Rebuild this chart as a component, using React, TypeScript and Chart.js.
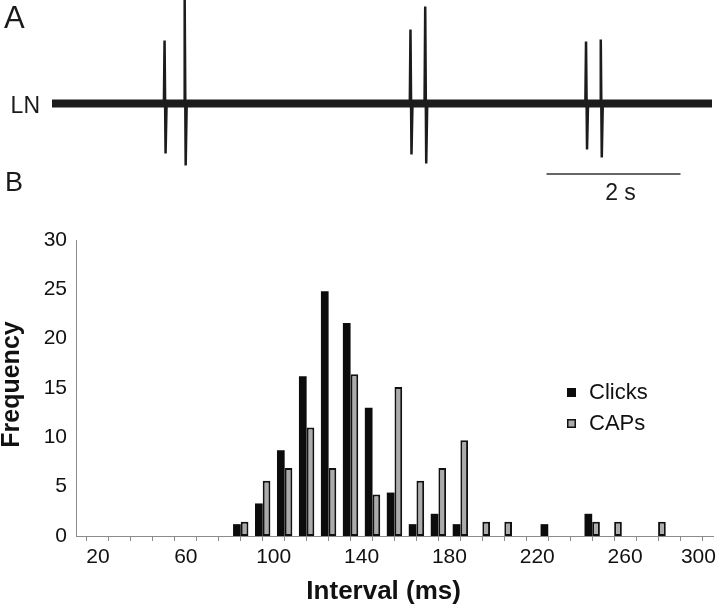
import React, { useEffect, useRef } from "react";
import { Chart, registerables } from "chart.js";

Chart.register(...registerables);

const FONT = '"Liberation Sans", Arial, Helvetica, sans-serif';

// ---------- Panel A: LN recording ----------
const traceDuration = 9.85; // seconds shown
const spikeTimes = [1.68, 1.98, 5.35, 5.57, 7.97, 8.19]; // s
const spikeUp = [63, 106, 74, 97, 62, 64]; // arbitrary units
const spikeDown = [50, 62, 51, 60, 46, 54];
const scaleBarStart = 7.38; // s
const scaleBarLength = 2; // s
const scaleBarLevel = -70.5;
const scaleBarLabel = "2 s";
const traceLabel = "LN";

// ---------- Panel B: interval histogram ----------
const binStart = [80, 90, 100, 110, 120, 130, 140, 150, 160, 170, 180, 190, 200, 210, 220, 230, 240, 250, 260, 270];
const binWidth = 10;
const clicks = [1.2, 3.3, 8.7, 16.2, 24.8, 21.6, 13.0, 4.4, 1.2, 2.25, 1.2, null, null, null, 1.2, null, 2.25, null, null, null];
const caps = [1.45, 5.6, 6.9, 11.0, 6.9, 16.4, 4.2, 15.1, 5.6, 6.9, 9.7, 1.45, 1.45, null, null, null, 1.45, 1.45, null, 1.45];
const seriesNames = ["Clicks", "CAPs"];
const xMin = 10;
const xMax = 300;
const xLabelFirst = 20;
const xLabelEvery = 40;
const yMax = 30;
const yStep = 5;
const xTitle = "Interval (ms)";
const yTitle = "Frequency";

const toPoints = (vals: (number | null)[]) =>
  binStart
    .map((b, i) => ({ x: b + binWidth / 2, y: vals[i] }))
    .filter((p) => p.y !== null) as { x: number; y: number }[];

export default function App() {
  const refA = useRef<HTMLCanvasElement>(null);
  const refB = useRef<HTMLCanvasElement>(null);

  useEffect(() => {
    // ---- Panel A ----
    const spikePts: { x: number; y: number }[] = [{ x: 0, y: 0 }];
    spikeTimes.forEach((t, i) => {
      spikePts.push({ x: t - 0.01, y: 0 });
      spikePts.push({ x: t, y: spikeUp[i] });
      spikePts.push({ x: t + 0.015, y: -spikeDown[i] });
      spikePts.push({ x: t + 0.03, y: 0 });
    });
    spikePts.push({ x: traceDuration, y: 0 });

    const textA = {
      id: "textA",
      afterDraw(chart: any) {
        const ctx = chart.ctx as CanvasRenderingContext2D;
        const xs = chart.scales.x;
        ctx.save();
        ctx.fillStyle = "#1a1a1a";
        ctx.textBaseline = "alphabetic";
        ctx.textAlign = "left";
        ctx.font = `31px ${FONT}`;
        ctx.fillText("A", 4, 28);
        ctx.font = `27px ${FONT}`;
        ctx.fillText("B", 5, 191);
        ctx.font = `23px ${FONT}`;
        ctx.textAlign = "right";
        ctx.fillText(traceLabel, 40, 113);
        ctx.textAlign = "center";
        const mid =
          (xs.getPixelForValue(scaleBarStart) + xs.getPixelForValue(scaleBarStart + scaleBarLength)) / 2;
        ctx.fillText(scaleBarLabel, mid + 7, 200);
        ctx.restore();
      },
    };

    const chartA = new Chart(refA.current!, {
      type: "line",
      data: {
        datasets: [
          {
            data: [
              { x: 0, y: 0 },
              { x: traceDuration, y: 0 },
            ],
            borderColor: "#1c1c1c",
            borderWidth: 8,
            borderCapStyle: "butt",
            pointRadius: 0,
          },
          {
            data: spikePts,
            borderColor: "#1c1c1c",
            borderWidth: 2.5,
            pointRadius: 0,
            tension: 0,
          },
          {
            data: [
              { x: scaleBarStart, y: scaleBarLevel },
              { x: scaleBarStart + scaleBarLength, y: scaleBarLevel },
            ],
            borderColor: "#333333",
            borderWidth: 1.5,
            pointRadius: 0,
          },
        ],
      },
      options: {
        animation: false,
        responsive: false,
        devicePixelRatio: 1,
        layout: { padding: { left: 52, right: 8, top: 0, bottom: 10 } },
        plugins: { legend: { display: false }, tooltip: { enabled: false } },
        scales: {
          x: { type: "linear", min: 0, max: traceDuration, display: false },
          y: { type: "linear", min: -96.5, max: 103.5, display: false },
        },
      },
      plugins: [textA],
    } as any);

    // ---- Panel B ----
    const legendB = {
      id: "legendB",
      afterDraw(chart: any) {
        const ctx = chart.ctx as CanvasRenderingContext2D;
        ctx.save();
        ctx.font = `22px ${FONT}`;
        ctx.textBaseline = "middle";
        ctx.textAlign = "left";
        chart.data.datasets.forEach((ds: any, i: number) => {
          const cy = 182.5 + i * 31;
          ctx.fillStyle = ds.backgroundColor;
          ctx.fillRect(567, cy - 4.5, 9, 9);
          if (ds.borderWidth) {
            ctx.strokeStyle = ds.borderColor;
            ctx.lineWidth = 1.5;
            ctx.strokeRect(567.75, cy - 3.75, 7.5, 7.5);
          }
          ctx.fillStyle = "#111111";
          ctx.fillText(ds.label, 589, cy);
        });
        ctx.restore();
      },
    };

    const chartB = new Chart(refB.current!, {
      type: "bar",
      data: {
        datasets: [
          {
            label: seriesNames[0],
            data: toPoints(clicks),
            backgroundColor: "#0c0c0c",
            borderColor: "#0c0c0c",
            borderWidth: 0,
          },
          {
            label: seriesNames[1],
            data: toPoints(caps),
            backgroundColor: "#ababab",
            borderColor: "#111111",
            borderWidth: 2,
            borderSkipped: false,
          },
        ],
      },
      options: {
        animation: false,
        responsive: false,
        devicePixelRatio: 1,
        layout: { padding: { left: 0, right: 7, top: 30, bottom: 0 } },
        datasets: { bar: { categoryPercentage: 0.7, barPercentage: 1.0 } },
        plugins: { legend: { display: false }, tooltip: { enabled: false } },
        scales: {
          x: {
            type: "linear",
            min: xMin,
            max: xMax,
            offset: false,
            afterFit: (s: any) => {
              s.height = 72;
              s.paddingLeft = 0;
              s.paddingRight = 0;
            },
            grid: {
              display: true,
              drawOnChartArea: false,
              drawTicks: true,
              tickLength: 5,
              color: "#8c8c8c",
              lineWidth: 1,
            },
            border: { display: true, color: "#8c8c8c", width: 1 },
            ticks: {
              stepSize: 10,
              autoSkip: false,
              maxRotation: 0,
              padding: 4,
              color: "#111111",
              font: { family: FONT, size: 21 },
              callback: (v: any) => {
                const n = Number(v);
                if ((n - xLabelFirst) % xLabelEvery !== 0) return "";
                return n === xMax ? String(n) + "     " : String(n);
              },
            },
            title: {
              display: true,
              text: xTitle + "   ",
              color: "#111111",
              font: { family: FONT, size: 26, weight: "bold", lineHeight: 1.2 },
              padding: { top: 0, bottom: 1 },
            },
          },
          y: {
            type: "linear",
            min: 0,
            max: yMax,
            afterFit: (s: any) => {
              s.width = 76;
            },
            grid: { display: false, drawTicks: false },
            border: { display: true, color: "#8c8c8c", width: 1 },
            ticks: {
              stepSize: yStep,
              padding: 9,
              color: "#111111",
              font: { family: FONT, size: 21 },
            },
            title: {
              display: true,
              text: " " + yTitle,
              color: "#111111",
              font: { family: FONT, size: 25, weight: "bold", lineHeight: 1.0 },
              padding: { top: 0, bottom: 0 },
            },
          },
        },
      },
      plugins: [legendB],
    } as any);

    return () => {
      chartA.destroy();
      chartB.destroy();
    };
  }, []);

  return (
    <div style={{ position: "fixed", left: 0, top: 0, width: 720, height: 608, background: "#ffffff" }}>
      <canvas
        ref={refA}
        width={720}
        height={210}
        style={{ position: "absolute", left: 0, top: 0, width: 720, height: 210, display: "block" }}
      />
      <canvas
        ref={refB}
        width={720}
        height={398}
        style={{ position: "absolute", left: 0, top: 210, width: 720, height: 398, display: "block" }}
      />
    </div>
  );
}
